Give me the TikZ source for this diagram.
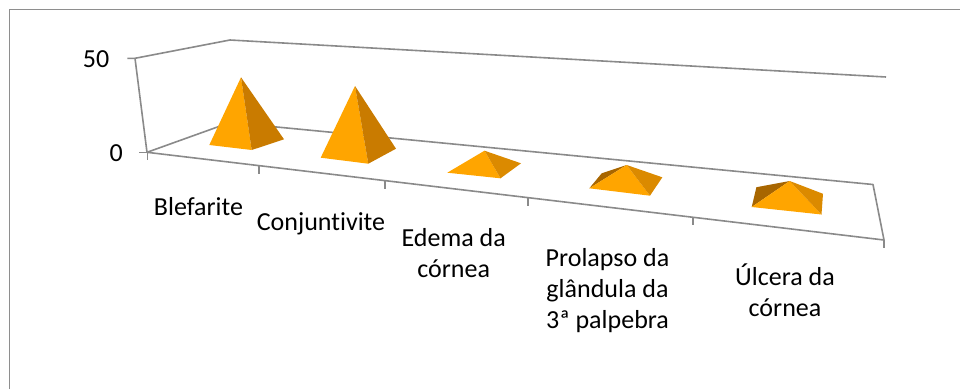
\documentclass[tikz,border=0pt]{standalone}
\usepackage{fontspec}
\setmainfont[Ligatures={NoCommon}]{Carlito}
\definecolor{axisgray}{HTML}{8A8A8A}
\definecolor{frameg}{HTML}{8E8E8E}
\definecolor{pfront}{HTML}{FFA500}
\definecolor{pright}{HTML}{C97B00}
\definecolor{prightl}{HTML}{DB8A00}
\definecolor{pleft}{HTML}{A86600}
\tikzset{
  axisline/.style={draw=axisgray,line width=1.6pt},
  frameline/.style={draw=frameg,line width=1.6pt},
  lbl/.style={font=\fontsize{26}{31.5}\selectfont,inner sep=0pt,anchor=base,text=black},
  fface/.style={fill=pfront},
  rface/.style={fill=pright},
  rfacel/.style={fill=prightl},
  lface/.style={fill=pleft}
}
\begin{document}
\begin{tikzpicture}[x=1pt,y=-1pt]
\useasboundingbox (0,0) rectangle (960,389);
% outer frame (cropped)
\coordinate (fr0) at (9.5,389);
\coordinate (fr1) at (9.5,9.5);
\coordinate (fr2) at (960,9.5);
\draw[frameline] (fr0) -- (fr1) -- (fr2);
% walls and floor
\coordinate (ax50) at (135,58.3);
\coordinate (t50) at (127.3,58.3);
\coordinate (ax0) at (147,152.3);
\coordinate (t0) at (139.3,152.3);
\coordinate (T0) at (230,40);
\coordinate (T1) at (886,77);
\coordinate (B0) at (230,122.5);
\coordinate (B1) at (873,184.5);
\coordinate (F1) at (884,240);
\draw[axisline] (t50) -- (ax50) -- (T0) -- (T1);
\draw[axisline] (ax50) -- (ax0);
\draw[axisline] (t0) -- (ax0);
\draw[axisline,line join=round] (F1) -- (ax0) -- (B0) -- (B1) -- (F1);
% category ticks
\foreach \x/\y in {147.5/152.3,259/165.6,385/180.6,528/197.8,693/217.3,884/240}{
  \draw[axisline] (\x,\y) -- (\x,\y+8);
}
% value labels
\node[lbl,anchor=base east] (v50) at (109.5,67) {50};
\node[lbl,anchor=base east] (v0) at (123,161) {0};
% pyramid 1
\coordinate (p1L) at (209.3,145); \coordinate (p1F) at (251.7,150);
\coordinate (p1R) at (284,139.3); \coordinate (p1A) at (241,77.3);
\fill[fface] (p1L) -- (p1F) -- (p1A) -- cycle;
\fill[rface] (p1F) -- (p1R) -- (p1A) -- cycle;
% pyramid 2
\coordinate (p2L) at (320.7,157.7); \coordinate (p2F) at (368.3,163.7);
\coordinate (p2R) at (396,148.7); \coordinate (p2A) at (355,86);
\fill[fface] (p2L) -- (p2F) -- (p2A) -- cycle;
\fill[rface] (p2F) -- (p2R) -- (p2A) -- cycle;
% pyramid 3
\coordinate (p3L) at (447.3,172.7); \coordinate (p3F) at (500.5,178.3);
\coordinate (p3R) at (521,163.3); \coordinate (p3A) at (484.5,150.7);
\fill[fface] (p3L) -- (p3F) -- (p3A) -- cycle;
\fill[rfacel] (p3F) -- (p3R) -- (p3A) -- cycle;
% pyramid 4
\coordinate (p4L) at (589.3,188.3); \coordinate (p4F) at (650,195.7);
\coordinate (p4R) at (662.3,177.3); \coordinate (p4A) at (626.7,165);
\coordinate (p4B) at (601.7,173.3);
\fill[lface] (p4B) -- (p4A) -- (p4L) -- cycle;
\fill[fface] (p4L) -- (p4F) -- (p4A) -- cycle;
\fill[rfacel] (p4F) -- (p4R) -- (p4A) -- cycle;
% pyramid 5
\coordinate (p5L) at (751.7,207); \coordinate (p5F) at (821.5,214.5);
\coordinate (p5R) at (823,193.8); \coordinate (p5A) at (789.7,181);
\coordinate (p5B) at (756.4,187.2);
\fill[lface] (p5B) -- (p5A) -- (p5L) -- cycle;
\fill[fface] (p5L) -- (p5F) -- (p5A) -- cycle;
\fill[rfacel] (p5F) -- (p5R) -- (p5A) -- cycle;
% category labels
\node[lbl] (c1) at (198.5,215) {Blefarite};
\node[lbl] (c2) at (321,230.7) {Conjuntivite};
\node[lbl] (c3a) at (453.7,246) {Edema da};
\node[lbl] (c3b) at (453.7,277.7) {córnea};
\node[lbl] (c4a) at (607.5,266) {Prolapso da};
\node[lbl] (c4b) at (607.5,297.3) {glândula da};
\node[lbl] (c4c) at (607.5,328.3) {3ª palpebra};
\node[lbl] (c5a) at (785,285) {Úlcera da};
\node[lbl] (c5b) at (785,316.7) {córnea};
\end{tikzpicture}
\end{document}
